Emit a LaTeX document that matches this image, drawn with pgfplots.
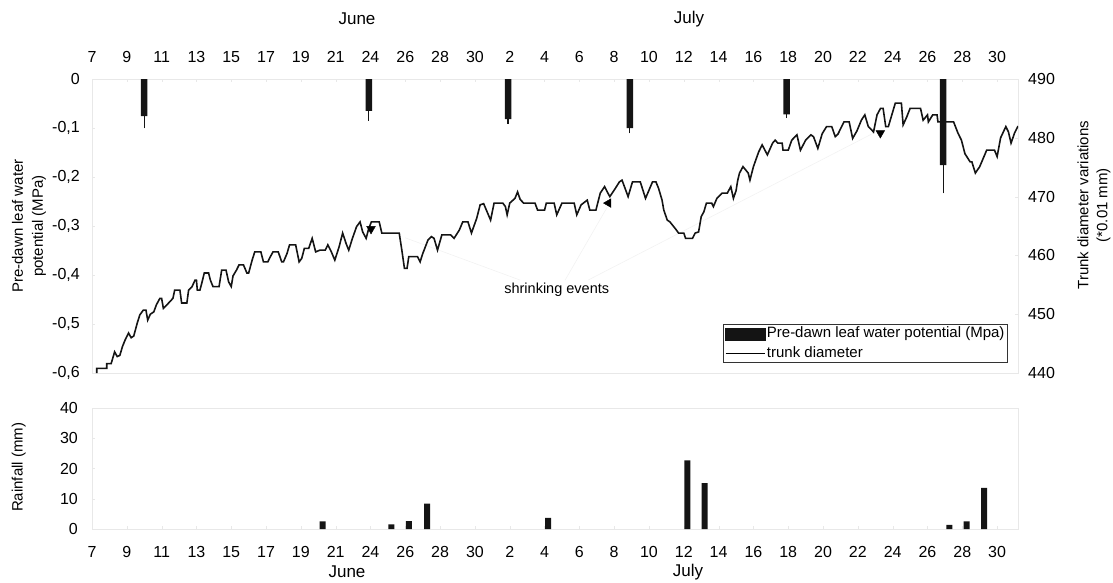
\documentclass[border=0pt]{standalone}
\usepackage{fontspec}
\setmainfont{Liberation Sans}
\usepackage{pgfplots}
\pgfplotsset{compat=1.18}
\newcommand\fs[2]{\fontsize{#1}{#2}\selectfont}
\pgfplotstableread{
x y
0.27 440.0
0.27 440.8
0.85 440.8
0.85 441.6
1.1 441.6
1.3 443.6
1.45 442.8
1.6 443.0
1.75 444.5
1.9 445.6
2.1 446.8
2.25 446.0
2.4 446.3
2.6 448.5
2.75 449.9
2.95 450.7
3.1 450.7
3.2 449.0
3.35 450.0
3.55 450.4
3.7 451.6
3.9 452.7
4.0 452.7
4.1 451.0
4.4 451.9
4.65 452.7
4.75 454.1
5.05 454.1
5.15 451.9
5.45 451.9
5.55 454.1
5.75 454.7
5.92 455.8
6.0 455.8
6.05 454.1
6.2 454.1
6.3 455.2
6.45 457.0
6.7 457.0
6.8 455.8
6.95 454.7
7.3 454.7
7.45 457.5
7.7 457.5
7.85 455.5
8.0 454.7
8.1 456.5
8.3 457.5
8.45 458.4
8.7 458.4
8.9 457.0
9.0 457.0
9.2 459.2
9.35 460.6
9.7 460.6
9.85 458.9
10.1 458.9
10.25 459.8
10.4 460.6
10.7 460.6
10.9 458.9
11.0 458.9
11.2 460.3
11.35 461.8
11.7 461.8
11.9 458.9
12.05 459.5
12.2 461.2
12.45 461.2
12.65 462.9
12.85 460.6
13.1 460.9
13.4 460.9
13.55 461.8
13.75 460.6
13.95 459.2
14.2 461.5
14.4 463.8
14.6 462.0
14.75 460.9
14.95 462.8
15.2 464.9
15.4 465.7
15.55 464.0
15.75 462.9
15.9 464.6
16.05 465.7
16.5 465.7
16.65 463.8
17.65 463.8
17.8 460.9
17.95 457.8
18.1 457.8
18.2 459.8
18.7 459.8
18.85 458.9
19.0 460.3
19.3 462.6
19.5 463.2
19.65 462.9
19.85 460.9
20.1 463.5
20.6 463.5
20.8 462.9
21.1 464.3
21.3 465.7
21.6 465.7
21.8 463.8
22.1 466.3
22.3 468.6
22.5 468.8
22.7 467.4
22.9 466.0
23.1 468.9
23.6 468.9
23.75 468.3
23.85 466.9
24.0 468.9
24.3 469.7
24.45 470.8
24.6 469.5
24.8 468.9
25.45 468.9
25.6 467.7
26.0 467.7
26.1 468.9
26.55 468.9
26.7 466.9
26.85 467.9
27.0 468.9
27.7 468.9
27.85 466.9
28.1 468.6
28.45 469.4
28.6 467.7
28.95 467.7
29.2 470.6
29.45 471.7
29.6 470.8
29.75 470.0
30.0 471.1
30.3 472.5
30.45 472.8
30.8 470.0
31.05 472.5
31.5 472.5
31.8 469.7
32.0 471.1
32.2 472.5
32.4 472.5
32.55 471.4
32.75 469.4
32.85 467.7
33.05 466.0
33.2 465.7
33.5 464.6
33.7 463.8
34.0 463.8
34.1 462.9
34.5 462.9
34.65 463.8
34.85 464.0
35.0 466.6
35.15 467.4
35.3 468.9
35.6 468.9
35.7 468.3
35.9 469.7
36.2 470.6
36.5 470.6
36.7 471.7
36.85 469.7
37.0 471.0
37.1 472.8
37.2 474.0
37.4 475.1
37.7 474.0
37.8 472.8
38.0 475.1
38.3 477.6
38.5 478.8
38.8 477.1
39.1 479.1
39.25 479.6
39.4 479.1
39.65 479.1
39.7 477.9
40.0 477.9
40.2 479.6
40.5 480.5
40.7 477.9
41.0 479.6
41.3 480.5
41.45 480.2
41.7 478.2
41.95 480.7
42.2 481.9
42.5 481.9
42.7 480.2
42.85 480.6
43.2 482.7
43.5 482.7
43.7 479.9
43.95 481.2
44.2 483.0
44.4 483.9
44.6 481.9
44.9 481.0
45.1 483.9
45.3 485.0
45.45 485.0
45.6 481.9
45.75 481.9
45.95 483.9
46.15 485.9
46.5 485.9
46.6 482.2
46.8 483.5
47.0 485.0
47.6 485.0
47.75 483.0
48.0 483.9
48.05 482.7
48.3 483.9
48.55 483.9
48.6 482.7
49.5 482.7
49.75 480.8
49.95 479.6
50.15 477.3
50.45 475.9
50.55 475.9
50.75 474.0
51.0 475.1
51.2 476.5
51.4 477.9
51.85 477.9
52.0 476.8
52.2 480.0
52.5 481.9
52.65 481.0
52.8 479.1
53.0 480.8
53.2 482.0
}\trunk
\pgfplotsset{
  common/.style={
    width=926pt, scale only axis,
    xmin=0, xmax=53.2,
    axis line style={black!9}, tick style={black!9}, major tick length=3pt,
    tick label style={font=\fs{16}{19}},
    yticklabel style={inner sep=0pt},
    xticklabel style={inner sep=0pt},
  },
  datelabels/.style={
    xtick={0,2,...,52},
    xticklabels={7,9,11,13,15,17,19,21,24,26,28,30,2,4,6,8,10,12,14,16,18,20,22,24,26,28,30},
  },
}
\begin{document}
\begin{tikzpicture}
\useasboundingbox (0pt,0pt) rectangle (1113pt,-582pt);
% top axis: leaf water potential
\begin{axis}[common, datelabels,
  at={(92pt,-373pt)}, anchor=south west, height=294pt,
  ymin=-0.6, ymax=0,
  xtick pos=right, xticklabel pos=right, ytick pos=left,
  xticklabel style={yshift=16pt},
  yticklabel style={xshift=-12pt},
  ytick={-0.6,-0.5,-0.4,-0.3,-0.2,-0.1,0},
  yticklabels={{-0,6},{-0,5},{-0,4},{-0,3},{-0,2},{-0,1},0},
  ylabel={Pre-dawn leaf water\\potential (MPa)},
  ylabel style={at={(axis description cs:-0.068,0.5)}, anchor=center, align=center, font=\fs{15}{20}},
]
\addplot[ybar, bar width=6.5pt, fill=black!92, draw=none,
  error bars/.cd, y dir=minus, y explicit, error mark=none,
  error bar style={line width=1.2pt, black!92}]
  coordinates {
  (3.0,-0.0755) -= (0,0.025)
  (15.9,-0.065) -= (0,0.020)
  (23.9,-0.082) -= (0,0.010)
  (30.9,-0.100) -= (0,0.011)
  (39.9,-0.072) -= (0,0.008)
  (48.9,-0.1755) -= (0,0.058)
  };
\end{axis}
% top axis: trunk diameter
\begin{axis}[common,
  at={(92pt,-373pt)}, anchor=south west, height=294pt,
  ymin=440, ymax=490,
  axis x line=none, axis y line*=right,
  ytick={440,450,460,470,480,490},
  yticklabels={440,450,460,470,480,490},
  yticklabel style={xshift=10pt},
  ylabel={Trunk diameter variations\\(*0.01 mm)},
  ylabel style={at={(axis description cs:1.082,0.571)}, anchor=center, align=center, font=\fs{15}{19}},
  legend style={at={(rel axis cs:0.989,0.034)}, anchor=south east,
    draw=black!80, line width=0.6pt, inner xsep=2pt, inner ysep=1pt,
    font=\fs{15}{18}, row sep=3pt,
    nodes={inner sep=1pt, text height=11pt, text depth=3.5pt},
    /tikz/every even column/.append style={column sep=0pt}},
  legend cell align=left,
]
\draw[black!5, line width=0.6pt] (axis cs:24.6,455.8) -- (axis cs:17.99,463.0);
\draw[black!5, line width=0.6pt] (axis cs:27.18,455.8) -- (axis cs:29.6,468.2);
\draw[black!5, line width=0.6pt] (axis cs:28.5,455.8) -- (axis cs:44.9,480.8);
\node[font=\fs{14.5}{17}, fill=white, inner sep=1pt] at (axis cs:26.7,454.1) {shrinking events};
\addlegendimage{legend image code/.code={\fill[black!92] (0pt,-6pt) rectangle (40pt,6pt);}}
\addlegendentry{Pre-dawn leaf water potential (Mpa)}
\addplot[black!92, line width=1.6pt, line join=miter, legend image code/.code={\draw[black, line width=1pt] (0pt,0pt) -- (39pt,0pt);}] table {\trunk};
\addlegendentry{trunk diameter}
\addplot[only marks, mark=triangle*, mark size=5pt, mark options={rotate=180, fill=black, draw=black}, forget plot]
  coordinates {(16.03,464.5) (45.29,480.8)};
\addplot[only marks, mark=triangle*, mark size=5pt, mark options={rotate=90, fill=black, draw=black}, forget plot]
  coordinates {(29.67,468.9)};
\end{axis}
% bottom axis: rainfall
\begin{axis}[common, datelabels,
  at={(92pt,-529pt)}, anchor=south west, height=121pt,
  ymin=0, ymax=40,
  xtick pos=left, ytick pos=left,
  xticklabel style={yshift=-17pt},
  yticklabel style={xshift=-14pt},
  ytick={0,10,20,30,40},
  yticklabels={0,10,20,30,40},
  ylabel={Rainfall (mm)},
  ylabel style={at={(axis description cs:-0.079,0.51)}, anchor=center, font=\fs{15}{19}},
]
\addplot[ybar, bar width=6pt, fill=black!92, draw=none]
  coordinates {(13.25,2.5) (17.2,1.5) (18.2,2.6) (19.25,8.4) (26.2,3.7)
  (34.2,22.7) (35.2,15.2) (49.25,1.4) (50.25,2.5) (51.25,13.6)};
\end{axis}
\node[font=\fs{17}{20}] at (357pt,-19pt) {June};
\node[font=\fs{17}{20}] at (689pt,-19pt) {July};
\node[font=\fs{17}{20}] at (347pt,-572pt) {June};
\node[font=\fs{17}{20}] at (688pt,-572pt) {July};
\end{tikzpicture}
\end{document}
